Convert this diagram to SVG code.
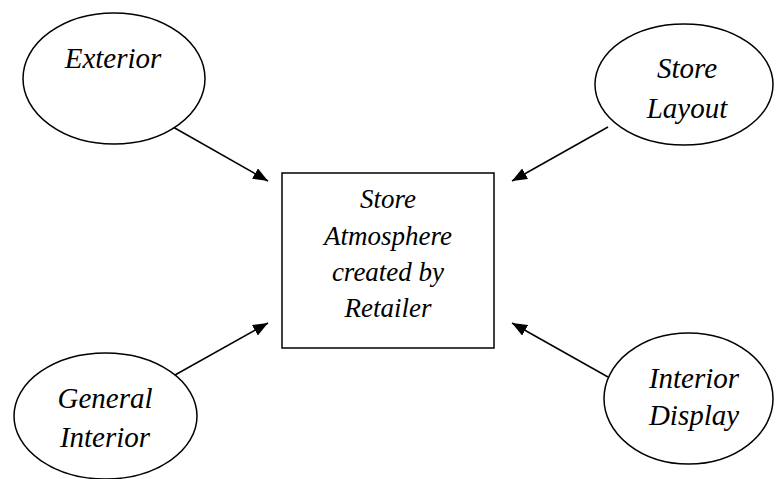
<svg xmlns="http://www.w3.org/2000/svg" width="776" height="479" viewBox="0 0 776 479">
  <style>
    .shape { fill: #ffffff; stroke: #000000; stroke-width: 1.5; }
    .label { font-family: "Liberation Serif", "Times New Roman", serif; font-style: italic; fill: #000000; text-anchor: middle; }
    .big { font-size: 29px; }
    .mid { font-size: 27px; }
    .link { stroke: #000000; stroke-width: 1.5; fill: none; marker-end: url(#head); }
  </style>
  <defs>
    <marker id="head" markerWidth="15" markerHeight="12" refX="15" refY="6" orient="auto" markerUnits="userSpaceOnUse">
      <path d="M0,0 L15,6 L0,12 Z" fill="#000000"/>
    </marker>
  </defs>
  <rect width="776" height="479" fill="#ffffff"/>

  <g id="connectors">
    <line class="link" x1="173" y1="127" x2="268" y2="181"/>
    <line class="link" x1="608" y1="127" x2="512" y2="181"/>
    <line class="link" x1="175" y1="375" x2="268" y2="323"/>
    <line class="link" x1="608" y1="377" x2="512" y2="323"/>
  </g>

  <g id="exterior">
    <ellipse class="shape" cx="114" cy="78.5" rx="91" ry="65.5"/>
    <text class="label big" x="113" y="68">Exterior</text>
  </g>

  <g id="store-layout">
    <ellipse class="shape" cx="684" cy="84.5" rx="89" ry="60.5"/>
    <text class="label big" x="687" y="78">Store</text>
    <text class="label big" x="687" y="118">Layout</text>
  </g>

  <g id="store-atmosphere">
    <rect class="shape" x="282" y="173" width="212" height="175"/>
    <text class="label mid" x="388" y="208">Store</text>
    <text class="label mid" x="388" y="244.5">Atmosphere</text>
    <text class="label mid" x="388" y="281">created by</text>
    <text class="label mid" x="388" y="317">Retailer</text>
  </g>

  <g id="general-interior">
    <ellipse class="shape" cx="105.5" cy="416" rx="91.5" ry="63"/>
    <text class="label big" x="105" y="408">General</text>
    <text class="label big" x="105" y="447">Interior</text>
  </g>

  <g id="interior-display">
    <ellipse class="shape" cx="688.5" cy="398.5" rx="84.5" ry="65.5"/>
    <text class="label big" x="694" y="388">Interior</text>
    <text class="label big" x="694" y="425">Display</text>
  </g>
</svg>
